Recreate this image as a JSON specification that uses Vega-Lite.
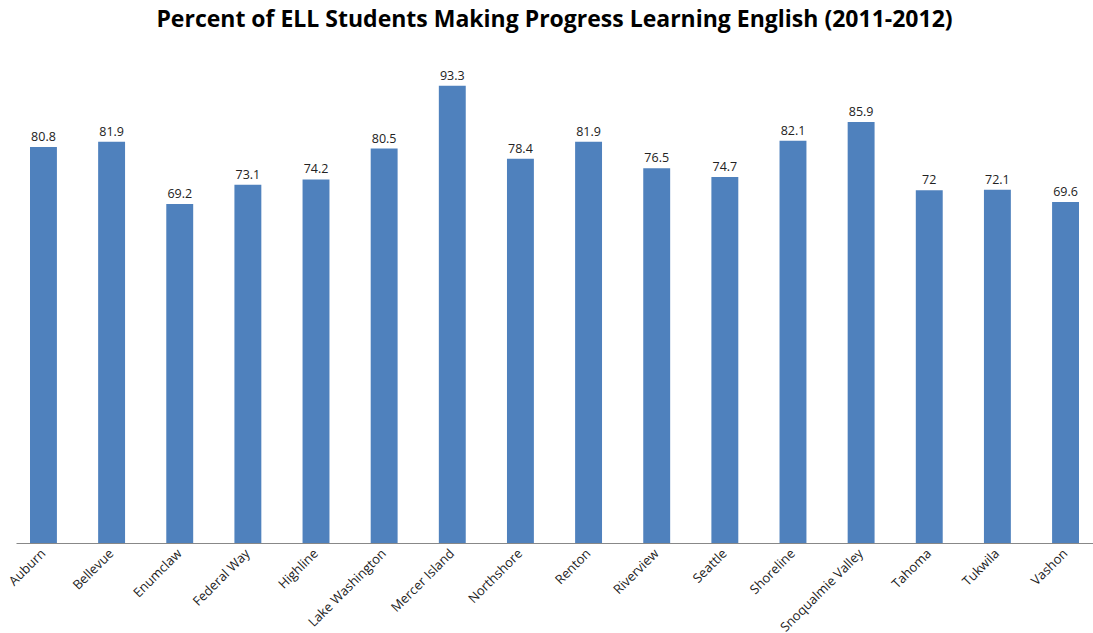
{
  "$schema": "https://vega.github.io/schema/vega-lite/v6.json",
  "autosize": "none",
  "width": 1077,
  "height": 490,
  "padding": {"left": 16, "top": 53, "right": 0, "bottom": 90},
  "background": "white",
  "title": {"text": "Percent of ELL Students Making Progress Learning English (2011-2012)", "font": "Open Sans", "fontSize": 23, "fontWeight": "bold", "color": "#000000", "offset": 21, "anchor": "middle"},
  "data": {"values": [
    {"district": "Auburn", "pct": 80.8},
    {"district": "Bellevue", "pct": 81.9},
    {"district": "Enumclaw", "pct": 69.2},
    {"district": "Federal Way", "pct": 73.1},
    {"district": "Highline", "pct": 74.2},
    {"district": "Lake Washington", "pct": 80.5},
    {"district": "Mercer Island", "pct": 93.3},
    {"district": "Northshore", "pct": 78.4},
    {"district": "Renton", "pct": 81.9},
    {"district": "Riverview", "pct": 76.5},
    {"district": "Seattle", "pct": 74.7},
    {"district": "Shoreline", "pct": 82.1},
    {"district": "Snoqualmie Valley", "pct": 85.9},
    {"district": "Tahoma", "pct": 72},
    {"district": "Tukwila", "pct": 72.1},
    {"district": "Vashon", "pct": 69.6}
  ]},
  "encoding": {
    "x": {"field": "district", "type": "nominal", "sort": null,
      "scale": {"paddingInner": 0.605, "paddingOuter": 0.2055},
      "axis": {"title": null, "labelAngle": -45, "labelAlign": "right", "labelBaseline": "middle", "labelFont": "Open Sans", "labelFontSize": 13, "labelColor": "#222222", "ticks": false, "labelPadding": 8, "domainColor": "#888888", "domainWidth": 1}},
    "y": {"field": "pct", "type": "quantitative", "scale": {"domain": [0, 100]}, "axis": null}
  },
  "layer": [
    {"mark": {"type": "bar", "color": "#4F81BD"}},
    {"mark": {"type": "text", "dy": -10, "font": "Open Sans", "fontSize": 12.5, "color": "#222222"}, "encoding": {"text": {"field": "pct", "type": "quantitative"}}}
  ],
  "config": {"view": {"stroke": null}}
}
